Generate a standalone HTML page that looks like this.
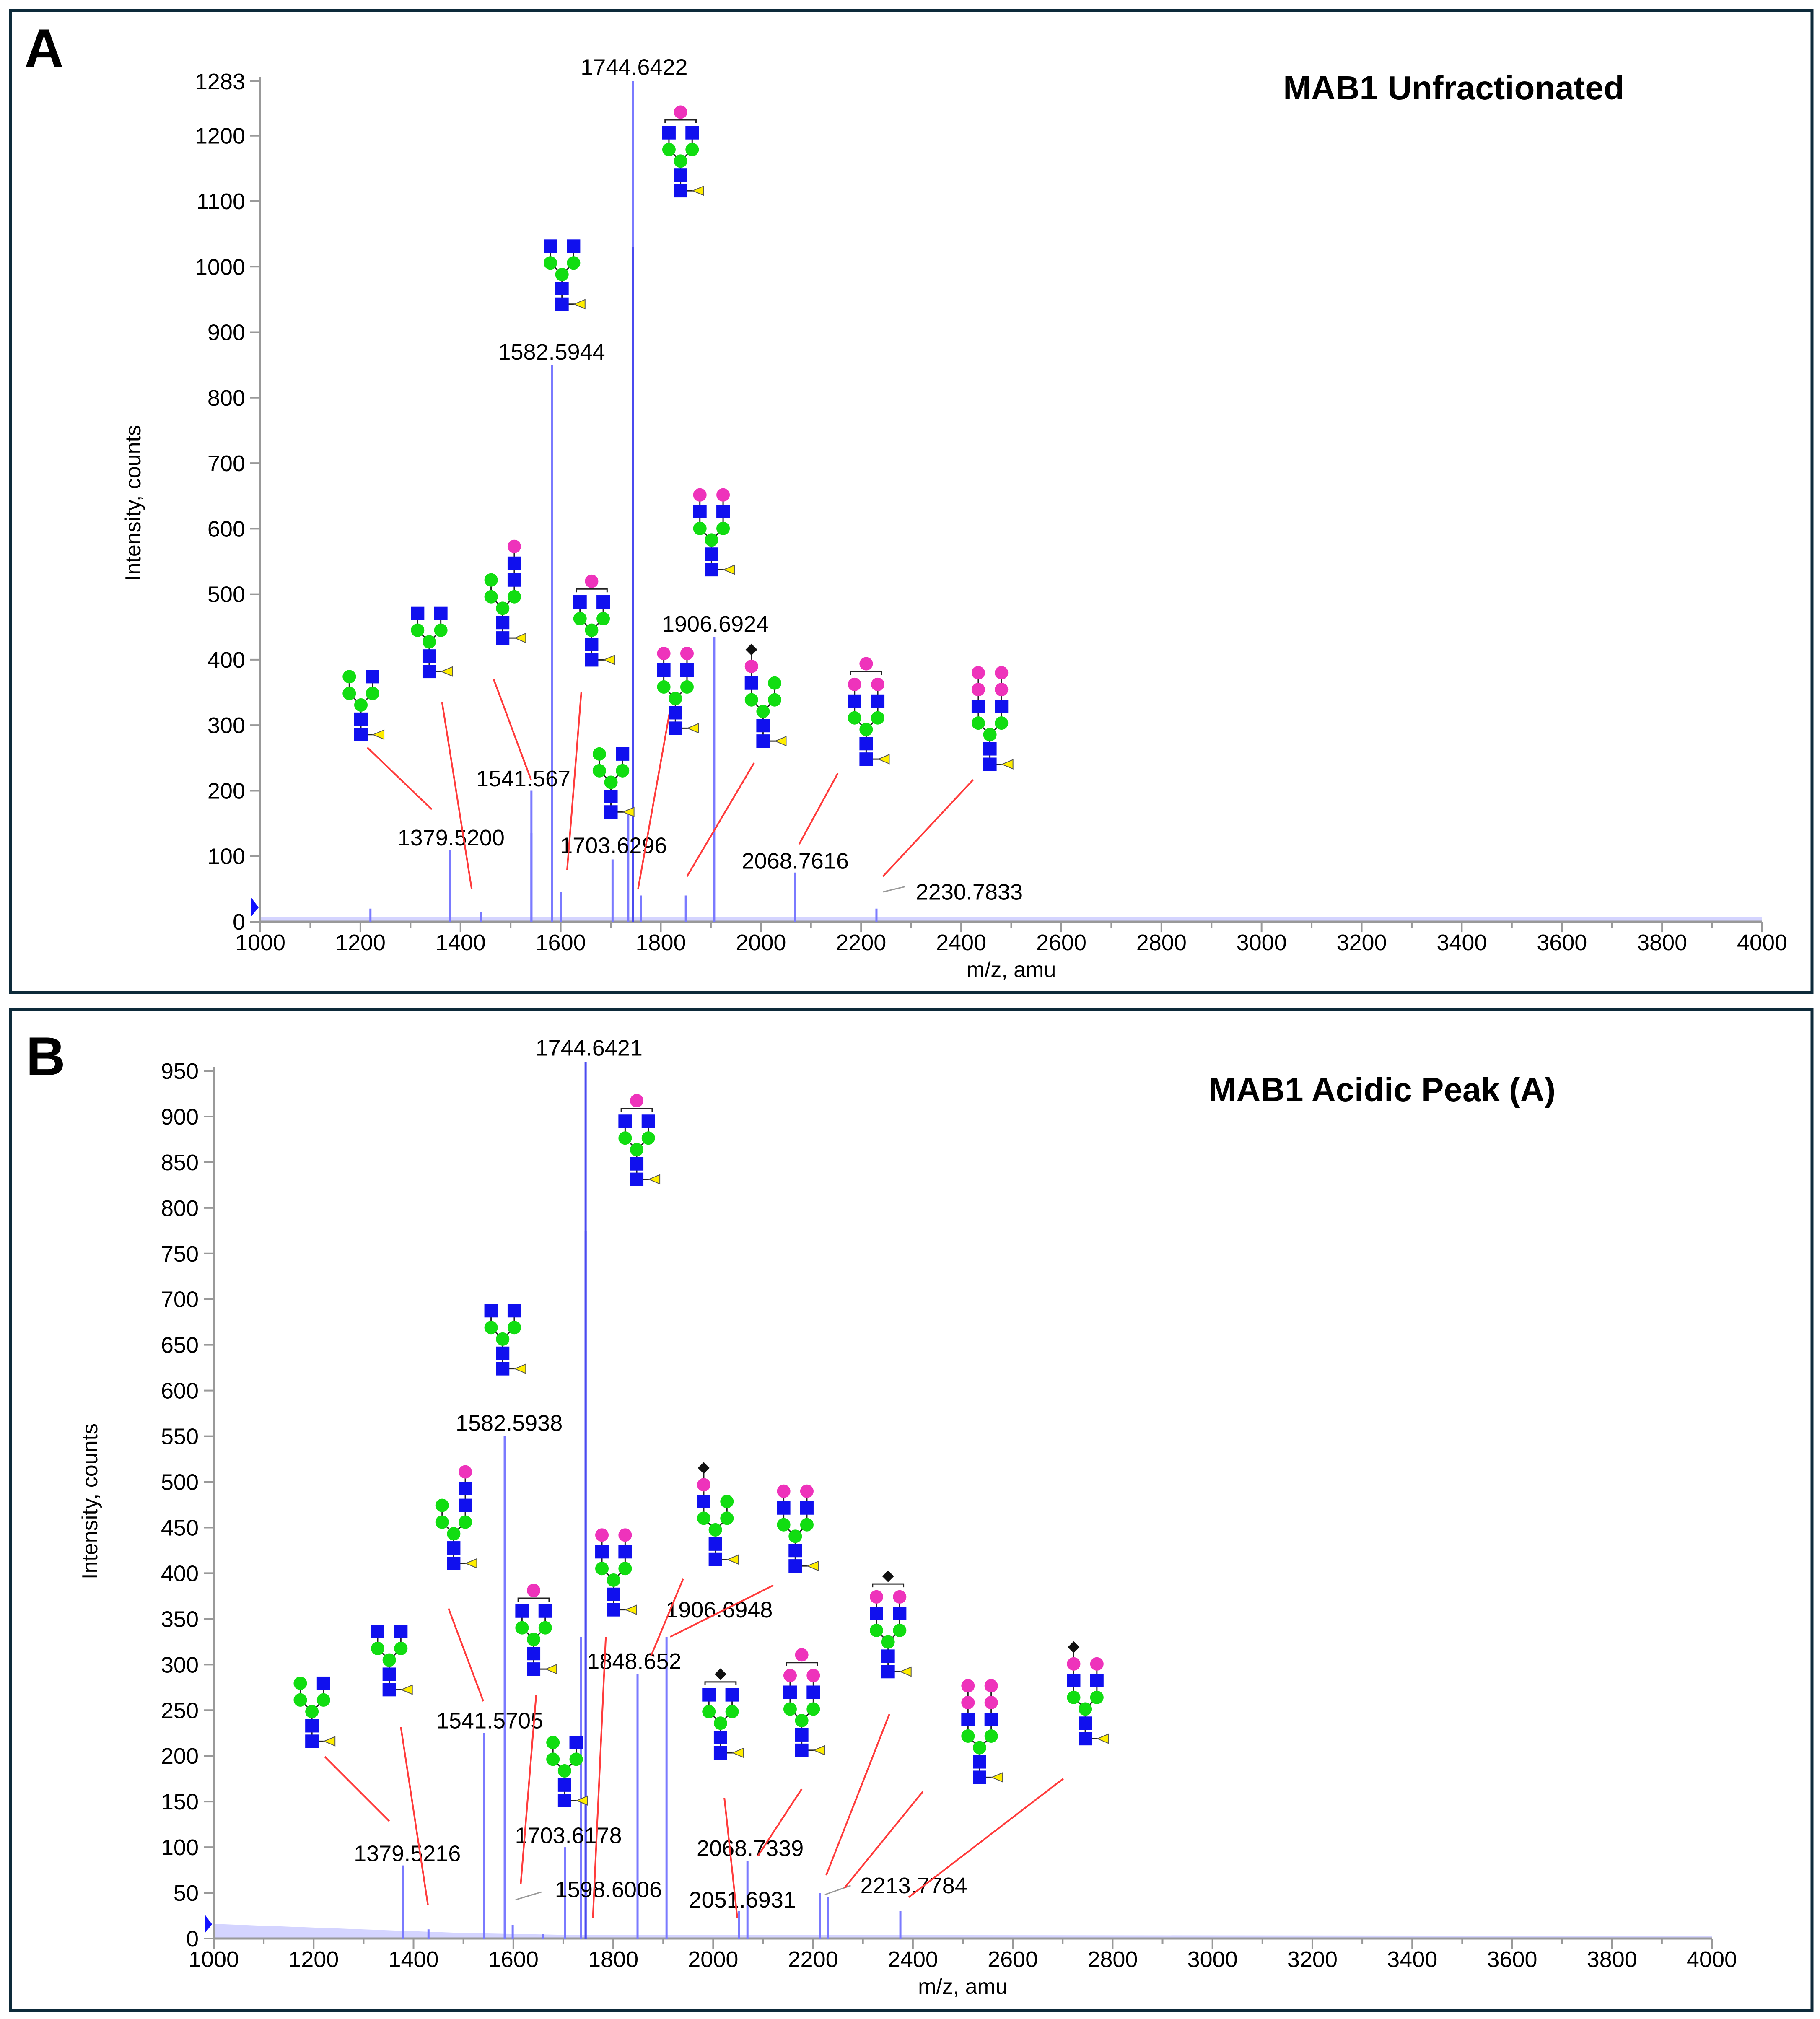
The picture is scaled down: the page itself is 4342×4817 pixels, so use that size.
<!DOCTYPE html>
<html><head><meta charset="utf-8"><style>
html,body{margin:0;padding:0;background:#fff;}
svg{display:block;font-family:"Liberation Sans",Arial,sans-serif;}
</style></head><body>
<svg id="fig" width="4342" height="4817" viewBox="0 0 4342 4817" xmlns="http://www.w3.org/2000/svg">
<rect x="0" y="0" width="4342" height="4817" fill="#fff"/>
<rect x="25" y="25" width="4298" height="2343" fill="none" stroke="#0d2a3a" stroke-width="7"/>
<rect x="25" y="2408" width="4298" height="2389" fill="none" stroke="#0d2a3a" stroke-width="7"/>
<text x="58" y="160" font-size="130" font-weight="bold">A</text>
<text x="62" y="2565" font-size="130" font-weight="bold">B</text>
<text x="3468" y="237" font-size="80" font-weight="bold" text-anchor="middle">MAB1 Unfractionated</text>
<text x="3297" y="2627" font-size="80" font-weight="bold" text-anchor="middle">MAB1 Acidic Peak (A)</text>
<g id="layer"></g>
</svg>
<script>
// ---- data ----
const mzA = [1220,1379.52,1440,1541.567,1541.6,1582.5944,1600,1703.6296,1735,1744.6422,1744.7,1760,1850,1906.6924,2068.7616,2230.7833];
const intA = [20,110,15,200,135,850,45,95,165,1283,1030,40,40,435,75,20];
const mzB = [1379.5216,1430,1541.5705,1541.6,1582.5938,1598.6006,1660,1703.6178,1735,1744.6421,1744.7,1848.652,1906.6948,2051.6931,2068.7339,2213.7784,2230,2375];
const intB = [80,10,225,165,550,15,5,100,330,960,775,290,330,30,85,50,45,30];
const ticksXA = [1000,1200,1400,1600,1800,2000,2200,2400,2600,2800,3000,3200,3400,3600,3800,4000];
const ticksYA = [0,100,200,300,400,500,600,700,800,900,1000,1100,1200,1283];
const ticksYB = [0,50,100,150,200,250,300,350,400,450,500,550,600,650,700,750,800,850,900,950];
const noiseMzB = [1000,1100,1200,1300,1400,1500,1700,4000];
const noiseIntB = [16,14,12,10,8,6,4,3];

const NS="http://www.w3.org/2000/svg";
const layer=document.getElementById('layer');
function el(tag,attrs,parent){const e=document.createElementNS(NS,tag);for(const k in attrs)e.setAttribute(k,attrs[k]);(parent||layer).appendChild(e);return e;}
const S=3.075;

function panel(cfg){
  const g=el('g',{});
  
  
  const X=m=>cfg.x0+(m-1000)/3000*(cfg.x1-cfg.x0);
  const Y=v=>cfg.y0-(v/cfg.ymax)*(cfg.y0-cfg.ytop);
  if(cfg.noiseMz){
    let pts=cfg.noiseMz.map((m,i)=>X(m)+','+Y(cfg.noiseInt[i])).join(' ');
    pts+=' '+X(4000)+','+cfg.y0+' '+X(1000)+','+cfg.y0;
    const nb=el('polygon',{points:pts,fill:'#d4d4ff'},g);
    
    
  } else {
    const nb=el('rect',{x:cfg.x0,y:cfg.y0-10,width:cfg.x1-cfg.x0,height:10,fill:'#d4d4ff'},g);
    
    
  }
  const ax=el('line',{x1:cfg.x0,y1:cfg.y0,x2:cfg.x1,y2:cfg.y0,stroke:'#999',"stroke-width":5},g);
  
  
  const ay=el('line',{x1:cfg.x0,y1:cfg.y0,x2:cfg.x0,y2:cfg.ytop-10,stroke:'#999',"stroke-width":4},g);
  
  
  ticksXA.forEach((t,i)=>{
    el('line',{x1:X(t),y1:cfg.y0,x2:X(t),y2:cfg.y0+24,stroke:'#999',"stroke-width":4},g);
    if(i<ticksXA.length-1) el('line',{x1:X(t+100),y1:cfg.y0,x2:X(t+100),y2:cfg.y0+14,stroke:'#999',"stroke-width":4},g);
    const tx=el('text',{x:X(t),y:cfg.y0+68,"font-size":54,"text-anchor":"middle"},g);
    tx.textContent=t;
    
    
  });
  cfg.yticks.forEach(t=>{
    el('line',{x1:cfg.x0-24,y1:Y(t),x2:cfg.x0,y2:Y(t),stroke:'#999',"stroke-width":4},g);
    const ty=el('text',{x:cfg.x0-36,y:Y(t)+19,"font-size":54,"text-anchor":"end"},g);
    ty.textContent=t;
    
    
  });
  const xt=el('text',{x:(cfg.x0+cfg.x1)/2,y:cfg.y0+132,"font-size":52,"text-anchor":"middle"},g);
  xt.textContent='m/z, amu';
  
  
  const yt=el('text',{x:cfg.ytx,y:cfg.yty,"font-size":52,"text-anchor":"middle",transform:`rotate(-90 ${cfg.ytx} ${cfg.yty})`},g);
  yt.textContent='Intensity, counts';
  
  
  const mk=el('polygon',{points:`${cfg.x0-22},${cfg.y0-58} ${cfg.x0-4},${cfg.y0-34} ${cfg.x0-22},${cfg.y0-12}`,fill:'#1010ff'},g);
  
  
  cfg.mz.forEach((m,i)=>{
    const p=el('line',{x1:X(m),y1:cfg.y0,x2:X(m),y2:Y(cfg.int[i]),stroke:cfg.int[i]>900&&cfg.int[i]<1100||(cfg.int[i]==775)?'#4a4af0':'#7a7aff',"stroke-width":5},g);
    
    
  });
  return g;
}

const A={name:'panel-a-spectrum',x0:621,x1:4204,y0:2199,ytop:194,ymax:1283,yticks:ticksYA,mz:mzA,int:intA,ytx:335,yty:1200};
const B={name:'panel-b-spectrum',x0:510,x1:4084,y0:4625,ytop:2555,ymax:950,yticks:ticksYB,mz:mzB,int:intB,ytx:232,yty:3582,noiseMz:noiseMzB,noiseInt:noiseIntB};
const gA=panel(A), gB=panel(B);

const labelsA=[['1744.6422',492,58],['1582.5944',428,279],['1906.6924',555,490],['1541.567',406,610],['1379.5200',350,656],['1703.6296',476,662],['2068.7616',617,674],['2230.7833',752,698]];
const labelsB=[['1744.6421',457,819],['1582.5938',395,1110],['1906.6948',558,1255],['1848.652',492,1295],['1541.5705',380,1341],['1703.6178',441,1430],['1379.5216',316,1444],['2068.7339',582,1440],['1598.6006',472,1472],['2051.6931',576,1480],['2213.7784',709,1469]];
function labels(list,g){list.forEach(l=>{const t=el('text',{x:l[1]*S,y:l[2]*S,"font-size":54,"text-anchor":"middle"},g);t.textContent=l[0];

});}
labels(labelsA,gA);labels(labelsB,gB);
el('line',{x1:685*S,y1:692*S,x2:702*S,y2:688*S,stroke:'#999',"stroke-width":3},gA);
el('line',{x1:640*S,y1:1470*S,x2:660*S,y2:1463*S,stroke:'#999',"stroke-width":3},gB);
el('line',{x1:400*S,y1:1474*S,x2:420*S,y2:1468*S,stroke:'#999',"stroke-width":3},gB);

const connA=[[285,580,335,628],[343,545,366,690],[383,527,412,605],[451,537,440,675],[520,550,495,690],[585,592,533,680],[650,600,620,655],[755,605,685,680]];
const connB=[[252,1363,302,1413],[311,1340,332,1478],[348,1248,375,1320],[416,1315,404,1462],[470,1270,460,1488],[530,1225,505,1285],[600,1230,520,1270],[562,1395,572,1488],[622,1388,588,1440],[690,1330,641,1455],[716,1390,655,1465],[825,1380,705,1472]];
function conns(list,g){list.forEach(c=>{const l=el('line',{x1:c[0]*S,y1:c[1]*S,x2:c[2]*S,y2:c[3]*S,stroke:'#ff3b3b',"stroke-width":4},g);

});}
conns(connA,gA);conns(connB,gB);

const COL={blue:'#1010ee',pink:'#ee33bb',green:'#11dd11',yellow:'#ffee00',black:'#111'};
function glycan(cx,cy,arms,top,g){
  const gg=el('g',{},g);
  
  
  const P=(x,y)=>[(cx+x)*S,(cy+y)*S];
  const ln=(a,b)=>el('line',{x1:a[0],y1:a[1],x2:b[0],y2:b[1],stroke:'#222',"stroke-width":3},gg);
  const sq=(p,c)=>el('rect',{x:p[0]-16,y:p[1]-16,width:32,height:32,fill:COL[c]},gg);
  const ci=(p,c)=>el('circle',{cx:p[0],cy:p[1],r:16,fill:COL[c]},gg);
  const dia=(p)=>el('polygon',{points:`${p[0]},${p[1]-14} ${p[0]+14},${p[1]} ${p[0]},${p[1]+14} ${p[0]-14},${p[1]}`,fill:'#111'},gg);
  const shape=(p,c)=>c==='blue'?sq(p,c):(c==='black'?dia(p):ci(p,c));
  const core=P(0,22), m1=P(-9,13), m2=P(9,13), s1=P(0,33), s2=P(0,45), fu=P(14,45);
  ln(core,s2);ln(s2,fu);ln(m1,core);ln(m2,core);
  let maxH=0;
  arms.forEach((arm,k)=>{
    const ox=k===0?-9:9;
    let prev=k===0?m1:m2;
    arm.forEach((c,i)=>{const p=P(ox,-13*i);ln(prev,p);prev=p;});
    arm.forEach((c,i)=>{shape(P(ox,-13*i),c);});
    maxH=Math.max(maxH,arm.length);
  });
  ci(m1,'green');ci(m2,'green');ci(core,'green');sq(s1,'blue');sq(s2,'blue');
  el('polygon',{points:`${fu[0]-14},${fu[1]} ${fu[0]+12},${fu[1]-11} ${fu[0]+12},${fu[1]+11}`,fill:COL.yellow,stroke:'#555',"stroke-width":2},gg);
  if(top){
    const by=-13*(maxH-1)-10;
    const a=P(-12,by),b=P(12,by);
    el('path',{d:`M${a[0]},${a[1]+8} L${a[0]},${a[1]} L${b[0]},${b[1]} L${b[0]},${b[1]+8}`,fill:'none',stroke:'#222',"stroke-width":3},gg);
    const t=P(0,by-6);
    if(top==='pink') ci(t,'pink'); else dia(t);
  }
}
const gAlyc=[
 [280,525,[['green'],['blue']],null],
 [333,476,[['blue'],['blue']],null],
 [390,450,[['green'],['blue','blue','pink']],null],
 [459,467,[['blue'],['blue']],'pink'],
 [436,191,[['blue'],['blue']],null],
 [528,103,[['blue'],['blue']],'pink'],
 [474,585,[['green'],['blue']],null],
 [524,520,[['blue','pink'],['blue','pink']],null],
 [552,397,[['blue','pink'],['blue','pink']],null],
 [592,530,[['blue','pink','black'],['green']],null],
 [672,544,[['blue','pink'],['blue','pink']],'pink'],
 [768,548,[['blue','pink','pink'],['blue','pink','pink']],null]
];
const gBlyc=[
 [242,1306,[['green'],['blue']],null],
 [302,1266,[['blue'],['blue']],null],
 [352,1168,[['green'],['blue','blue','pink']],null],
 [414,1250,[['blue'],['blue']],'pink'],
 [390,1017,[['blue'],['blue']],null],
 [494,870,[['blue'],['blue']],'pink'],
 [438,1352,[['green'],['blue']],null],
 [476,1204,[['blue','pink'],['blue','pink']],null],
 [555,1165,[['blue','pink','black'],['green']],null],
 [617,1170,[['blue','pink'],['blue','pink']],null],
 [559,1315,[['blue'],['blue']],'black'],
 [622,1313,[['blue','pink'],['blue','pink']],'pink'],
 [689,1252,[['blue','pink'],['blue','pink']],'black'],
 [760,1334,[['blue','pink','pink'],['blue','pink','pink']],null],
 [842,1304,[['blue','pink','black'],['blue','pink']],null]
];
gAlyc.forEach(d=>glycan(d[0],d[1],d[2],d[3],gA));
gBlyc.forEach(d=>glycan(d[0],d[1],d[2],d[3],gB));
</script>
</body></html>
